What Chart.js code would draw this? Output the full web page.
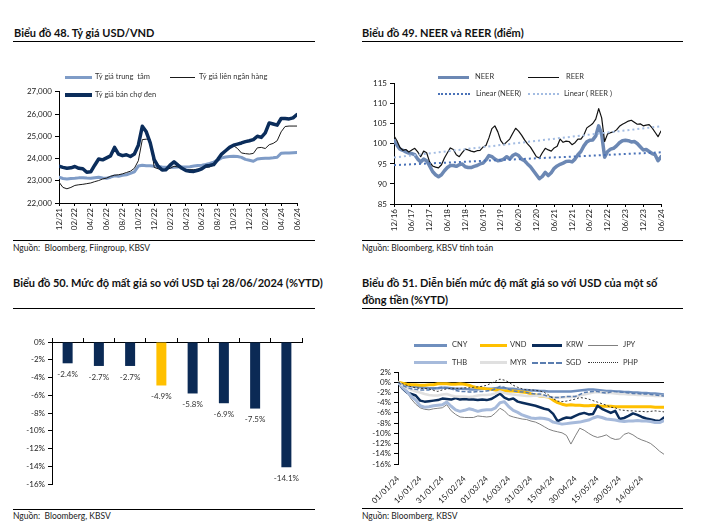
<!DOCTYPE html>
<html><head><meta charset="utf-8">
<script src="https://cdn.jsdelivr.net/npm/chart.js@4.4.1/dist/chart.umd.min.js"></script>
<style>
body{margin:0;width:716px;height:529px;background:#fff;position:relative;overflow:hidden;font-family:Lato,"Open Sans",sans-serif;color:#222;}
.title{position:absolute;font-weight:bold;font-size:11px;color:#111;white-space:nowrap;line-height:14px;}
.rule{position:absolute;height:0;border-top:1.4px solid #000;}
.srule{position:absolute;height:0;border-top:1px solid #000;}
.src{position:absolute;font-size:8.5px;color:#222;white-space:pre;line-height:10px;}
.lg{position:absolute;font-size:7.5px;color:#333;white-space:pre;line-height:10px;}
.sw{position:absolute;height:0;}
canvas{position:absolute;}
</style></head><body>

<div class="title" style="left:14px;top:26px;">Biểu đồ 48. Tỷ giá USD/VND</div>
<div class="rule" style="left:13px;top:41px;width:302px;"></div>
<div class="title" style="left:362px;top:26px;">Biểu đồ 49. NEER và REER (điểm)</div>
<div class="rule" style="left:362px;top:41px;width:321px;"></div>
<div class="title" style="left:13px;top:276px;">Biểu đồ 50. Mức độ mất giá so với USD tại 28/06/2024 (%YTD)</div>
<div class="rule" style="left:13px;top:308px;width:302px;"></div>
<div class="title" style="left:362px;top:276px;">Biểu đồ 51. Diễn biến mức độ mất giá so với USD của một số</div>
<div class="title" style="left:362px;top:293px;">đồng tiền (%YTD)</div>
<div class="rule" style="left:362px;top:308px;width:321px;"></div>

<div class="srule" style="left:13px;top:240px;width:302px;"></div>
<div class="src" style="left:13px;top:243px;">Nguồn:  Bloomberg, Fiingroup, KBSV</div>
<div class="srule" style="left:362px;top:240px;width:321px;"></div>
<div class="src" style="left:362px;top:243px;">Nguồn: Bloomberg, KBSV tính toán</div>
<div class="srule" style="left:13px;top:509px;width:302px;"></div>
<div class="src" style="left:13px;top:511px;">Nguồn:  Bloomberg, KBSV</div>
<div class="srule" style="left:362px;top:508px;width:321px;"></div>
<div class="src" style="left:362px;top:511px;">Nguồn: Bloomberg, KBSV</div>

<canvas id="c1" width="310" height="149" style="left:0px;top:84px;"></canvas>
<canvas id="c2" width="335" height="158" style="left:340px;top:76px;"></canvas>
<canvas id="c3" width="320" height="170" style="left:0px;top:330px;"></canvas>
<canvas id="c4" width="335" height="168" style="left:340px;top:360px;"></canvas>

<!-- legends chart 48 -->
<div class="sw" style="left:65px;top:75.5px;width:27px;border-top:3px solid #7f9cc7;"></div>
<div class="lg" style="left:95px;top:72px;">Tỷ giá trung  tâm</div>
<div class="sw" style="left:170px;top:76.5px;width:25px;border-top:1px solid #1a1a1a;"></div>
<div class="lg" style="left:199px;top:72px;">Tỷ giá liên ngân hàng</div>
<div class="sw" style="left:65px;top:93px;width:27px;border-top:4px solid #0b2d5b;"></div>
<div class="lg" style="left:95px;top:90px;">Tỷ giá bán chợ đen</div>

<!-- legends chart 49 -->
<div class="sw" style="left:438px;top:75.5px;width:31px;border-top:3.5px solid #6c88b4;"></div>
<div class="lg" style="left:475px;top:72px;">NEER</div>
<div class="sw" style="left:528px;top:77px;width:31px;border-top:1px solid #111;"></div>
<div class="lg" style="left:566px;top:72px;">REER</div>
<div class="sw" style="left:438px;top:93px;width:32px;border-top:2px dotted #4a72b8;"></div>
<div class="lg" style="left:476px;top:89px;">Linear (NEER)</div>
<div class="sw" style="left:528px;top:93px;width:31px;border-top:2px dotted #a3bce2;"></div>
<div class="lg" style="left:564px;top:89px;">Linear ( REER )</div>

<!-- legends chart 51 -->
<div class="sw" style="left:414px;top:343.5px;width:33px;border-top:3px solid #6f8fbe;"></div>
<div class="lg" style="left:452px;top:340px;">CNY</div>
<div class="sw" style="left:480px;top:343.5px;width:27px;border-top:3px solid #ffc000;"></div>
<div class="lg" style="left:510px;top:340px;">VND</div>
<div class="sw" style="left:532px;top:343.5px;width:30px;border-top:3px solid #0b2d5b;"></div>
<div class="lg" style="left:566px;top:340px;">KRW</div>
<div class="sw" style="left:588px;top:344.5px;width:30px;border-top:1px solid #808080;"></div>
<div class="lg" style="left:623px;top:340px;">JPY</div>
<div class="sw" style="left:414px;top:361px;width:33px;border-top:3px solid #a6badb;"></div>
<div class="lg" style="left:452px;top:358px;">THB</div>
<div class="sw" style="left:480px;top:361px;width:27px;border-top:3px solid #e0e0e0;"></div>
<div class="lg" style="left:510px;top:358px;">MYR</div>
<div class="sw" style="left:532px;top:362px;width:30px;border-top:2px dashed #5a7db0;"></div>
<div class="lg" style="left:566px;top:358px;">SGD</div>
<div class="sw" style="left:588px;top:362px;width:30px;border-top:1.5px dotted #333;"></div>
<div class="lg" style="left:623px;top:358px;">PHP</div>

<script>
// ---------- Chart 48: USD/VND (semi-monthly, 12/2021 - 06/2024) ----------
const usdTicks = ['12/21','02/22','04/22','06/22','08/22','10/22','12/22','02/23','04/23','06/23','08/23','10/23','12/23','02/24','04/24','06/24'];
const centralRate = [23160,23100,23080,23100,23110,23130,23140,23120,23110,23140,
 23160,23130,23110,23160,23220,23200,23250,23270,23330,23400,
 23660,23700,23680,23670,23650,23640,23620,23610,23600,23610,
 23620,23620,23620,23630,23660,23690,23700,23730,23780,23840,
 23930,24030,24070,24090,24100,24090,24050,23960,23920,23880,
 23980,24000,24010,24010,24030,24060,24240,24250,24250,24260,
 24270];
const interbankRate = [22940,22700,22640,22700,22790,22820,22840,22870,22900,22960,
 23010,23080,23120,23200,23250,23270,23310,23370,23430,23560,
 23900,24850,24870,24850,23600,23540,23470,23500,23560,23650,
 23620,23560,23510,23500,23500,23520,23560,23600,23620,23700,
 23880,24150,24380,24520,24580,24450,24250,24220,24200,24230,
 24480,24500,24450,24620,24680,24800,25200,25440,25460,25460,
 25460];
const blackMarketRate = [23650,23600,23560,23580,23640,23560,23540,23380,23400,23700,
 23980,23940,24030,24120,24500,24200,24130,24170,24090,24200,
 24600,25450,25200,24700,23950,23650,23480,23500,23700,23850,
 23700,23560,23460,23430,23420,23470,23540,23660,23690,23730,
 23950,24200,24350,24500,24600,24650,24700,24760,24800,24850,
 25000,24950,25150,25600,25550,25500,25800,25800,25780,25830,
 25980];

// ---------- Chart 49: NEER / REER (monthly, 12/2016 - 06/2024) ----------
const eerTicks = ['12/16','06/17','12/17','06/18','12/18','06/19','12/19','06/20','12/20','06/21','12/21','06/22','12/22','06/23','12/23','06/24'];
const neer = [100.8,99.7,98.7,98.4,98.0,97.7,97.6,97.3,96.2,95.5,
 96.2,95.8,94.5,93.1,92.3,91.8,92.3,93.3,94.1,94.6,
 94.6,94.4,94.8,95.0,94.3,94.1,94.1,94.4,94.6,95.0,
 95.2,96.0,97.1,96.8,96.2,95.8,95.9,96.2,96.8,96.2,
 97.1,97.5,97.1,96.2,95.8,95.0,94.3,93.3,92.3,91.3,
 91.9,92.9,92.1,92.8,93.9,94.5,94.9,95.2,95.6,95.7,
 95.5,96.2,97.3,98.1,99.5,100.5,100.9,101.0,102.0,104.5,
 102.4,96.7,98.1,98.7,98.9,99.5,100.3,100.8,100.9,100.8,
 100.5,100.6,100.1,99.3,98.5,98.6,98.1,97.6,97.3,95.8,
 96.8];
const reer = [102.0,100.8,99.1,98.4,98.6,98.0,98.5,98.9,98.0,96.8,
 98.2,97.8,95.5,94.5,94.2,94.0,94.8,96.5,97.8,99.0,
 98.6,97.3,96.8,97.8,98.7,98.5,98.2,98.0,98.3,98.4,
 99.2,99.6,101.5,103.8,104.5,103.0,100.8,99.8,100.5,101.2,
 102.6,103.9,103.2,102.2,101.0,100.0,99.2,98.0,96.8,96.5,
 97.8,98.9,98.5,98.2,99.0,99.4,101.2,100.4,100.7,100.6,
 99.8,100.3,101.2,101.2,102.2,104.0,104.5,105.1,106.2,108.8,
 106.5,100.6,102.5,102.8,103.0,103.5,104.4,104.9,105.3,105.7,
 105.9,105.4,104.9,105.0,104.5,104.7,104.8,104.0,102.9,101.8,
 103.2];
const neerTrendEnds = [94.7, 97.9];   // linear trend, start & end as read
const reerTrendEnds = [96.6, 104.4];

// ---------- Chart 50: YTD depreciation at 28/06/2024 ----------
const currencies = ['CNY','MYR','SGD','VND','PHP','KRW','THB','JPY'];
const ytdChange = [-2.4,-2.7,-2.7,-4.9,-5.8,-6.9,-7.5,-14.1];
const highlightCurrency = 'VND';

// ---------- Chart 51: YTD path (every 3 days, 01/01/24 - 29/06/24) ----------
const ytdTicks = ['01/01/24','16/01/24','31/01/24','15/02/24','01/03/24','16/03/24','31/03/24','15/04/24','30/04/24','15/05/24','30/05/24','14/06/24'];
const cny = [0,-0.3,-0.6,-0.8,-0.9,-1.0,-1.1,-1.2,-1.2,-1.2,
 -1.1,-1.1,-1.2,-1.3,-1.3,-1.3,-1.4,-1.4,-1.4,-1.3,
 -1.3,-1.3,-1.2,-1.1,-1.2,-1.3,-1.3,-1.4,-1.5,-1.5,
 -1.6,-1.6,-1.7,-1.7,-1.8,-1.8,-1.8,-1.8,-1.8,-1.8,
 -1.7,-1.6,-1.5,-1.4,-1.4,-1.5,-1.6,-1.7,-1.7,-1.8,
 -1.8,-1.9,-1.9,-2.0,-2.0,-2.1,-2.1,-2.2,-2.2,-2.3,
 -2.4];
const vnd = [0,-0.2,-0.4,-0.5,-0.5,-0.6,-0.6,-0.5,-0.5,-0.3,
 -0.3,-0.3,-0.4,-0.4,-0.3,-0.4,-0.6,-0.9,-1.1,-1.2,
 -1.3,-1.4,-1.5,-1.6,-1.7,-1.7,-1.7,-1.8,-1.9,-2.0,
 -2.3,-2.5,-2.7,-2.8,-2.9,-3.5,-4.0,-4.3,-4.5,-4.4,
 -4.5,-4.5,-4.6,-4.6,-4.5,-4.6,-4.7,-4.7,-4.7,-4.8,
 -4.8,-4.8,-4.8,-4.8,-4.8,-4.8,-4.8,-4.8,-4.9,-4.9,
 -4.9];
const krw = [0,-1.2,-2.0,-2.3,-2.6,-3.6,-3.8,-3.7,-3.6,-3.5,
 -3.2,-3.3,-3.4,-3.1,-3.4,-3.3,-3.4,-3.4,-3.5,-3.4,
 -3.5,-3.3,-2.8,-2.2,-3.0,-3.4,-3.2,-3.8,-4.0,-4.2,
 -4.4,-4.6,-4.9,-5.2,-5.4,-6.2,-7.6,-7.2,-6.9,-7.0,
 -6.6,-6.2,-6.0,-6.3,-6.2,-4.6,-5.2,-5.6,-6.0,-5.6,
 -7.2,-7.0,-6.6,-6.1,-6.4,-6.8,-7.1,-7.3,-7.5,-7.6,
 -6.9];
const jpy = [0,-1.0,-2.0,-3.3,-4.3,-5.0,-5.3,-5.4,-5.2,-5.1,
 -5.0,-4.4,-5.6,-6.3,-6.8,-6.9,-6.9,-6.9,-6.6,-6.7,
 -6.8,-6.7,-6.0,-5.1,-5.6,-6.5,-6.8,-7.0,-7.2,-7.3,
 -7.6,-7.8,-8.2,-8.7,-9.2,-9.5,-9.7,-9.9,-10.4,-12.1,
 -10.5,-9.0,-9.4,-10.0,-10.5,-10.8,-10.6,-10.3,-10.9,-11.2,
 -11.1,-10.2,-9.9,-10.3,-10.9,-11.3,-11.6,-12.0,-12.7,-13.5,
 -14.1];
const thb = [0,-1.0,-1.8,-2.8,-3.5,-4.6,-4.9,-4.8,-4.6,-4.5,
 -4.4,-3.9,-4.7,-5.4,-5.7,-5.5,-5.2,-5.4,-5.7,-5.5,
 -5.4,-5.4,-5.0,-4.0,-3.8,-4.8,-5.5,-5.9,-6.4,-6.7,
 -7.0,-7.1,-7.0,-7.1,-7.3,-7.8,-8.0,-8.2,-8.1,-8.0,
 -7.9,-7.8,-7.6,-7.4,-7.0,-6.7,-6.9,-7.2,-7.3,-7.4,
 -7.6,-7.7,-7.6,-7.6,-7.5,-7.6,-7.6,-7.7,-7.9,-7.9,
 -7.5];
const myr = [0,-0.6,-1.1,-1.5,-1.8,-2.0,-2.3,-2.5,-2.6,-2.6,
 -2.4,-2.3,-2.6,-2.8,-2.8,-2.8,-2.9,-2.8,-2.6,-2.5,
 -2.5,-2.4,-2.2,-1.8,-2.1,-2.3,-2.4,-2.5,-2.6,-2.7,
 -2.7,-2.6,-2.7,-2.8,-2.9,-3.0,-3.0,-3.0,-2.9,-2.9,
 -2.8,-2.6,-2.4,-2.2,-2.0,-1.9,-2.0,-2.1,-2.1,-2.2,
 -2.3,-2.3,-2.4,-2.4,-2.5,-2.5,-2.6,-2.6,-2.7,-2.7,
 -2.7];
const sgd = [0,-0.6,-1.0,-1.3,-1.4,-1.5,-1.5,-1.5,-1.3,-1.1,
 -1.0,-1.1,-1.3,-1.6,-1.8,-1.8,-1.9,-1.9,-1.8,-1.8,
 -1.7,-1.6,-1.3,-0.8,-1.0,-1.4,-1.7,-1.8,-1.9,-2.0,
 -2.2,-2.3,-2.3,-2.5,-2.8,-3.0,-3.0,-2.9,-2.8,-2.8,
 -2.8,-2.4,-2.0,-1.9,-1.8,-1.8,-2.0,-2.1,-1.9,-1.8,
 -1.9,-2.0,-2.1,-2.2,-2.2,-2.3,-2.3,-2.4,-2.5,-2.6,
 -2.7];
const php = [0,-0.3,-0.6,-0.9,-1.1,-1.2,-1.2,-1.3,-1.6,-1.8,
 -1.5,-1.3,-1.2,-1.2,-1.2,-1.1,-1.1,-1.0,-0.9,-0.8,
 -0.6,-0.2,0.2,0.6,0.4,0.0,-0.6,-1.0,-1.3,-1.5,
 -1.5,-1.6,-1.7,-2.0,-2.5,-3.2,-3.7,-3.8,-3.7,-3.5,
 -3.3,-3.0,-3.1,-3.3,-3.6,-3.9,-4.2,-4.5,-4.9,-5.0,
 -5.4,-5.5,-5.6,-5.6,-5.7,-5.7,-5.8,-5.7,-5.6,-5.7,
 -5.8];

// ---------- common ----------
const FONT = 'Lato, "Open Sans", sans-serif';
Chart.defaults.font.family = FONT;
Chart.defaults.color = '#222';
Chart.defaults.animation = false;
const idx = n => Array.from({length:n}, (_, i) => i);
const fixW = w => s => { s.width = w; };
const fixH = h => s => { s.height = h; };
const basePlugins = {legend:{display:false}, tooltip:{enabled:false}};
const els = {point:{radius:0}, line:{tension:0, borderCapStyle:'round', borderJoinStyle:'round'}};
const yAxis = (min, max, step, w, fmt) => ({
  min, max, afterFit: fixW(w),
  border:{display:true, color:'#000', width:1},
  grid:{drawOnChartArea:false, tickLength:4, color:'#000'},
  ticks:{stepSize:step, autoSkip:false, padding:3, font:{size:8}, color:'#222', callback: fmt}
});
const xLinearRot = (n, step, labels, h) => ({
  type:'linear', min:0, max:n-1, afterFit: fixH(h),
  border:{display:true, color:'#000', width:1},
  grid:{drawOnChartArea:false, tickLength:3, color:'#000'},
  ticks:{stepSize:step, autoSkip:false, minRotation:90, maxRotation:90, padding:2, font:{size:8}, color:'#222',
    callback: v => (labels[Math.round(v/step)] ?? '')}
});

// Chart 48
new Chart(document.getElementById('c1'), {
  type:'line',
  data:{labels: idx(centralRate.length), datasets:[
    {label:'Tỷ giá trung tâm', data:centralRate, borderColor:'#7f9cc7', borderWidth:3, order:3},
    {label:'Tỷ giá liên ngân hàng', data:interbankRate, borderColor:'#1a1a1a', borderWidth:1, order:2},
    {label:'Tỷ giá bán chợ đen', data:blackMarketRate, borderColor:'#0b2d5b', borderWidth:3.5, order:1}
  ]},
  options:{responsive:false, layout:{padding:{top:7, right:13, left:0, bottom:0}}, elements:els, plugins:basePlugins,
    scales:{
      x: xLinearRot(centralRate.length, 4, usdTicks, 30),
      y: yAxis(22000, 27000, 1000, 59, v => v.toLocaleString('en-US'))
    }}
});

// Chart 49
const trendLine = (ends, n) => { const a = new Array(n).fill(null); a[0] = ends[0]; a[n-1] = ends[1]; return a; };
new Chart(document.getElementById('c2'), {
  type:'line',
  data:{labels: idx(neer.length), datasets:[
    {label:'NEER', data:neer, borderColor:'#6c88b4', borderWidth:3.5, order:4},
    {label:'REER', data:reer, borderColor:'#111', borderWidth:1.2, order:3},
    {label:'Linear (NEER)', data:trendLine(neerTrendEnds, neer.length), borderColor:'#4a72b8', borderWidth:2, borderDash:[2,3], spanGaps:true, borderCapStyle:'butt', order:2},
    {label:'Linear ( REER )', data:trendLine(reerTrendEnds, reer.length), borderColor:'#a3bce2', borderWidth:2, borderDash:[2,3], spanGaps:true, borderCapStyle:'butt', order:1}
  ]},
  options:{responsive:false, layout:{padding:{top:7, right:14, left:0, bottom:0}}, elements:els, plugins:basePlugins,
    scales:{
      x: xLinearRot(neer.length, 6, eerTicks, 30),
      y: yAxis(85, 115, 5, 54, v => v)
    }}
});

// Chart 50
const barValueLabels = {
  id:'barValueLabels',
  afterDatasetsDraw(chart){
    const ctx = chart.ctx, meta = chart.getDatasetMeta(0), d = chart.data.datasets[0].data;
    ctx.save();
    ctx.font = '8px ' + FONT; ctx.fillStyle = '#333'; ctx.textAlign = 'center'; ctx.textBaseline = 'middle';
    meta.data.forEach((bar, i) => ctx.fillText(d[i].toFixed(1) + '%', bar.x, bar.y + 11));
    ctx.restore();
  }
};
new Chart(document.getElementById('c3'), {
  type:'bar',
  data:{labels: currencies, datasets:[{
    data: ytdChange,
    backgroundColor: currencies.map(c => c === highlightCurrency ? '#ffc000' : '#0b2a55'),
    barPercentage:0.32, categoryPercentage:1
  }]},
  options:{responsive:false, layout:{padding:{top:8, right:18, left:0, bottom:0}}, plugins:basePlugins,
    scales:{
      x:{position:'bottom', afterFit: fixH(16), border:{display:false}, grid:{display:false},
         ticks:{padding:7, font:{size:8}, color:'#222'}},
      x2:{type:'category', position:'top', labels: currencies, offset:true, afterFit: fixH(4),
         border:{display:true, color:'#000', width:1},
         grid:{display:true, drawOnChartArea:false, offset:true, tickLength:4, color:'#000'},
         ticks:{display:false}},
      y: yAxis(-16, 0, 2, 52, v => v + '%')
    }},
  plugins:[barValueLabels]
});

// Chart 51
const y4 = yAxis(-16, 2, 2, 58, v => v + '%');
y4.grid = {drawOnChartArea:true, tickLength:4, tickColor:'#000',
  color: c => (c.tick && c.tick.value === 0) ? '#000' : 'rgba(0,0,0,0)'};
new Chart(document.getElementById('c4'), {
  type:'line',
  data:{labels: idx(cny.length), datasets:[
    {label:'CNY', data:cny, borderColor:'#6f8fbe', borderWidth:2.5, order:8},
    {label:'VND', data:vnd, borderColor:'#ffc000', borderWidth:3, order:7},
    {label:'KRW', data:krw, borderColor:'#0b2d5b', borderWidth:2.5, order:6},
    {label:'JPY', data:jpy, borderColor:'#808080', borderWidth:1, order:5},
    {label:'THB', data:thb, borderColor:'#a6badb', borderWidth:3, order:4},
    {label:'MYR', data:myr, borderColor:'#e0e0e0', borderWidth:2.5, order:3},
    {label:'SGD', data:sgd, borderColor:'#5a7db0', borderWidth:1.5, borderDash:[4,2], borderCapStyle:'butt', order:2},
    {label:'PHP', data:php, borderColor:'#333', borderWidth:1, borderDash:[2,2], borderCapStyle:'butt', order:1}
  ]},
  options:{responsive:false, layout:{padding:{top:12, right:11, left:0, bottom:0}}, elements:els, plugins:basePlugins,
    scales:{
      x:{type:'linear', min:0, max:cny.length-1, afterFit: fixH(64), border:{display:false}, grid:{display:false},
         ticks:{stepSize:5, autoSkip:false, minRotation:45, maxRotation:45, padding:2, font:{size:8}, color:'#222',
           callback: v => (ytdTicks[Math.round(v/5)] ?? '')}},
      y: y4
    }}
});
</script>
</body></html>
